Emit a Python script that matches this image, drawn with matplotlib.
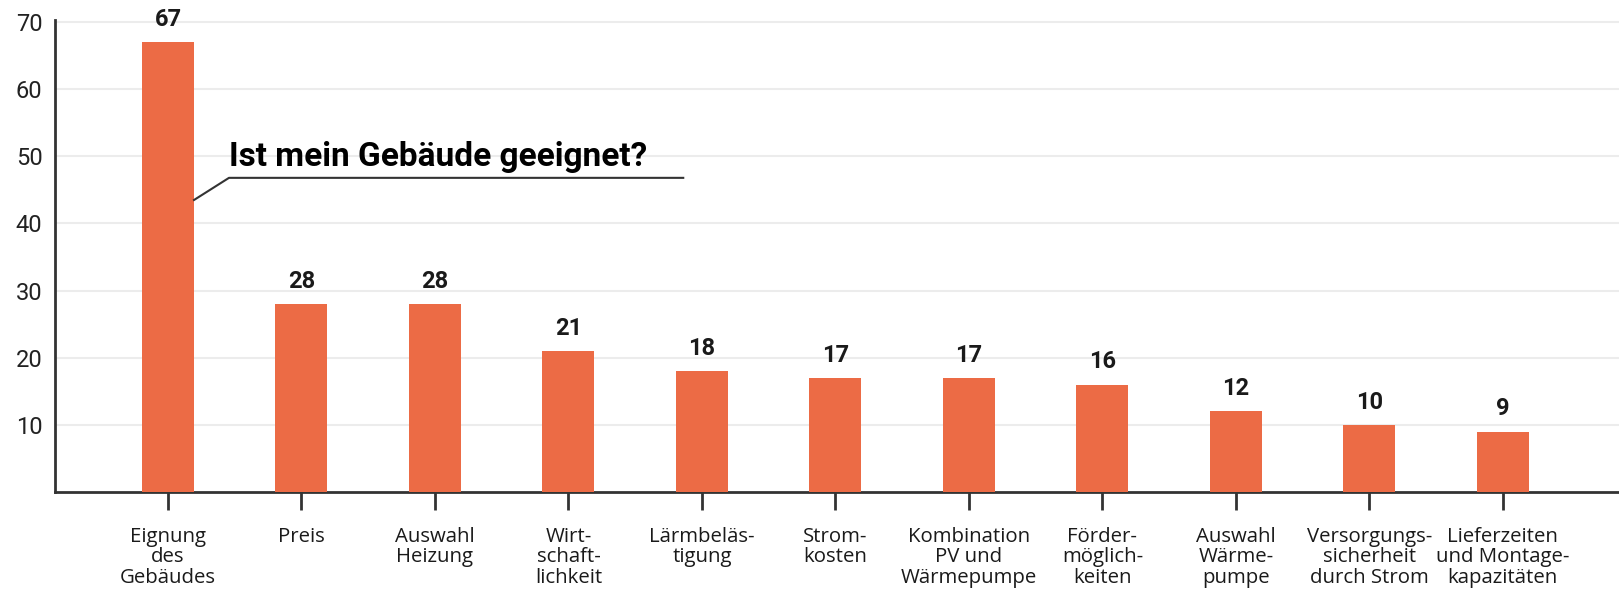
import matplotlib
matplotlib.use('Agg')
import matplotlib.pyplot as plt
import numpy as np

# Data
categories = [
    'Eignung\ndes\nGebäudes', 'Preis', 'Auswahl\nHeizung', 'Wirt-\nschaft-\nlichkeit',
    'Lärmbeläs-\ntigung', 'Strom-\nkosten', 'Kombination\nPV und\nWärmepumpe',
    'Förder-\nmöglich-\nkeiten', 'Auswahl\nWärme-\npumpe', 'Versorgungs-\nsicherheit\ndurch Strom',
    'Lieferzeiten\nund Montage-\nkapazitäten',
]
values = [67, 28, 28, 21, 18, 17, 17, 16, 12, 10, 9]
y_ticks = [10, 20, 30, 40, 50, 60, 70]

bar_color = '#ec6b45'
text_color = '#1a1a1a'
axis_color = '#333333'
grid_color = '#ececec'

fig = plt.figure(figsize=(16.19, 5.92), dpi=100)
ax = fig.add_axes([0.034, 0.169, 0.966, 0.797])

x = np.arange(len(categories))
bars = ax.bar(x, values, width=0.39, color=bar_color, zorder=3)

# value labels
for xi, v in zip(x, values):
    ax.annotate(str(v), xy=(xi, v), xytext=(0, 8), textcoords='offset points',
                ha='center', va='bottom', fontsize=17, fontweight='bold',
                family='Roboto', color=text_color, clip_on=False)

ax.set_xlim(-0.846, 10.87)
ax.set_ylim(0, 70.3)

ax.set_yticks(y_ticks)
ax.set_yticklabels([str(t) for t in y_ticks], family='Roboto', fontsize=17, color='#222222')
ax.tick_params(axis='y', length=0, pad=9)

ax.set_xticks(x)
ax.set_xticklabels(categories, family='Open Sans', fontsize=14.7, color=text_color,
                   linespacing=1.05, va='top')
ax.tick_params(axis='x', length=13, width=2, color=axis_color, pad=12, direction='out')

ax.grid(axis='y', color=grid_color, linewidth=1.5, zorder=0)
ax.set_axisbelow(True)

for s in ['top', 'right']:
    ax.spines[s].set_visible(False)
for s in ['left', 'bottom']:
    ax.spines[s].set_color(axis_color)
    ax.spines[s].set_linewidth(2)

# annotation callout
ax.plot([0.195, 0.457, 3.86], [43.5, 46.8, 46.8], color=axis_color, linewidth=1.5, zorder=4)
ax.text(0.457, 48.6, 'Ist mein Gebäude geeignet?', family='Roboto', fontsize=24,
        fontweight='bold', color='black', ha='left', va='baseline', zorder=5)

fig.savefig('out.png', dpi=100, facecolor='white')
